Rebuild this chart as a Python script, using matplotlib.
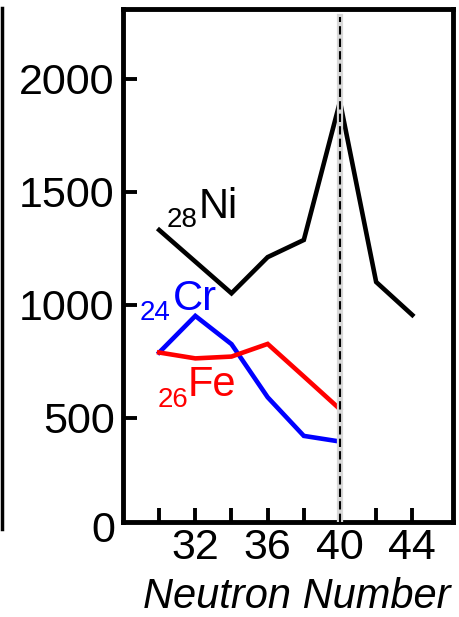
import matplotlib
matplotlib.use("Agg")
from matplotlib import pyplot as plt
from matplotlib.lines import Line2D

plt.rcParams['font.family'] = ['Liberation Sans', 'DejaVu Sans']

# neutron number vs value
n_ni = [30, 32, 34, 36, 38, 40, 42, 44]
v_ni = [1330, 1190, 1050, 1210, 1286, 1898, 1100, 954]

n_cr = [30, 32, 34, 36, 38, 40]
v_cr = [788, 950, 825, 590, 419, 394]

n_fe = [30, 32, 34, 36, 38, 40]
v_fe = [788, 762, 770, 826, 682, 537]

x_ticks = [30, 32, 34, 36, 38, 40, 42, 44]
x_labels = ["", "32", "", "36", "", "40", "", "44"]
y_ticks = [500, 1000, 1500, 2000]
magic_n = 40

W, H = 459, 617
fig = plt.figure(figsize=(W / 100, H / 100), dpi=100)
ax = fig.add_axes([123 / W, (H - 522) / H, (453 - 123) / W, (522 - 9) / H])

ax.plot(n_ni, v_ni, color="black", lw=3.3, solid_joinstyle="miter", zorder=3)
ax.plot(n_cr, v_cr, color="#0000ff", lw=3.3, solid_joinstyle="miter", zorder=3)
ax.plot(n_fe, v_fe, color="#ff0000", lw=3.3, solid_joinstyle="miter", zorder=3)

ax.set_xlim(28, 46.25)
ax.set_ylim(38, 2308)

# shaded dashed marker at N = 40
top = (2273 - 38) / (2308 - 38)
ax.axvline(magic_n, ymax=top, color="#d8d8d8", lw=4.5, zorder=4)
ax.axvline(magic_n, ymax=top, color="black", lw=1.5, ls=(0, (4, 2)), zorder=5)

for s in ax.spines.values():
    s.set_linewidth(3.5)
ax.set_xticks(x_ticks)
ax.set_xticklabels(x_labels)
ax.set_yticks(y_ticks)
ax.tick_params(direction="in", length=10, width=2.8, labelsize=31, pad=6)
ax.tick_params(axis="x", pad=4)
ax.tick_params(top=False, right=False)
ax.text(-8 / 330, 0, "0", transform=ax.get_yaxis_transform(), ha="right",
        va="center", fontsize=31)

fig.text(297 / W, (H - 608) / H, "Neutron Number", ha="center",
         va="baseline", fontsize=30, style="italic")

# element labels
ax.text(32.2, 1385, "Ni", color="black", fontsize=30, va="baseline")
ax.text(30.4, 1343, "28", color="black", fontsize=20, va="baseline")
ax.text(30.75, 975, "Cr", color="#0000ff", fontsize=30, va="baseline")
ax.text(28.9, 932, "24", color="#0000ff", fontsize=20, va="baseline")
ax.text(31.6, 595, "Fe", color="#ff0000", fontsize=30, va="baseline")
ax.text(29.9, 549, "26", color="#ff0000", fontsize=20, va="baseline")

# edge of the neighbouring panel
fig.add_artist(Line2D([1.5 / W, 1.5 / W], [(H - 529) / H, (H - 8) / H],
                      color="black", lw=2.5, transform=fig.transFigure))

fig.savefig("out.png", dpi=100)
